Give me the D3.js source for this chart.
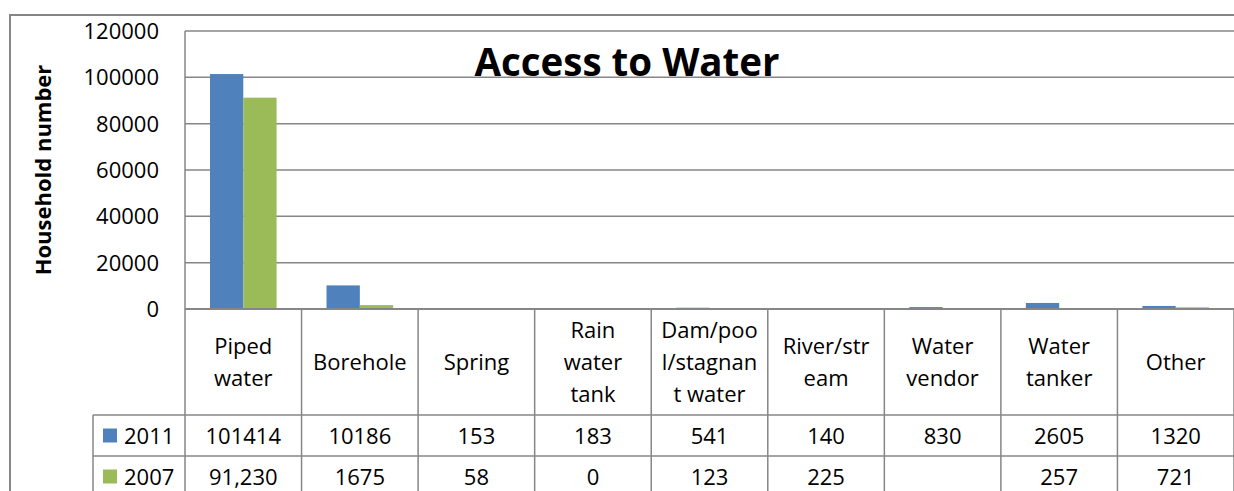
<!DOCTYPE html>
<html>
<head>
<meta charset="utf-8">
<script src="https://cdn.jsdelivr.net/npm/d3@7"></script>
<style>
  body { margin: 0; background: #fff; }
  svg { display: block; font-family: "Open Sans", Lato, sans-serif; }
</style>
</head>
<body>
<svg id="chart" width="1234" height="491"></svg>
<script>
// chart data
const categories = ['Piped water', 'Borehole', 'Spring', 'Rain water tank', 'Dam/pool/stagnant water',
  'River/stream', 'Water vendor', 'Water tanker', 'Other'];
// how Excel wrapped each label in the data table
const categoryLines = [['Piped', 'water'], ['Borehole'], ['Spring'], ['Rain', 'water', 'tank'],
  ['Dam/poo', 'l/stagnan', 't water'], ['River/str', 'eam'], ['Water', 'vendor'], ['Water', 'tanker'], ['Other']];
const series = ['2011', '2007'];
const values2011 = [101414, 10186, 153, 183, 541, 140, 830, 2605, 1320];
const values2007 = [91230, 1675, 58, 0, 123, 225, null, 257, 721];
const labels2011 = ['101414', '10186', '153', '183', '541', '140', '830', '2605', '1320'];
const labels2007 = ['91,230', '1675', '58', '0', '123', '225', '', '257', '721'];
const yTicks = [0, 20000, 40000, 60000, 80000, 100000, 120000];
const colors = { '2011': '#4F81BD', '2007': '#9BBB59' };

const svg = d3.select('#chart');
const gridColor = '#868686';

// plot area
const plotLeft = 185, plotRight = 1234, plotTop = 31, zeroY = 309;
const rowLabelTop = zeroY, rowLabelBottom = 415, row1Bottom = 456, row2Bottom = 497;
const tableLeft = 93;

const x = d3.scaleBand().domain(categories).range([plotLeft, plotRight]).paddingInner(0).paddingOuter(0);
const xs = d3.scaleBand().domain(series).range([0, x.bandwidth()]).paddingInner(0).paddingOuter(0.75);
const y = d3.scaleLinear().domain([0, 120000]).range([zeroY, plotTop]);

// outer chart border
svg.append('path')
  .attr('d', `M10,491 V15 H1240`)
  .attr('fill', 'none')
  .attr('stroke', gridColor)
  .attr('stroke-width', 2);

// gridlines
svg.append('g')
  .selectAll('line')
  .data(yTicks.filter(d => d > 0))
  .enter().append('line')
  .attr('x1', plotLeft).attr('x2', plotRight)
  .attr('y1', d => y(d)).attr('y2', d => y(d))
  .attr('stroke', gridColor)
  .attr('stroke-width', 1.5);

// y tick labels
svg.append('g')
  .selectAll('text')
  .data(yTicks)
  .enter().append('text')
  .attr('x', 159)
  .attr('y', d => y(d) + 8)
  .attr('text-anchor', 'end')
  .attr('font-size', 22)
  .attr('fill', '#000')
  .text(d => d);

// y axis title
svg.append('text')
  .attr('transform', `translate(51,${(plotTop + zeroY) / 2}) rotate(-90)`)
  .attr('text-anchor', 'middle')
  .attr('font-size', 22)
  .attr('font-weight', 'bold')
  .text('Household number');

// bars
const barData = [];
categories.forEach((c, i) => {
  barData.push({ cat: c, s: '2011', v: values2011[i] });
  barData.push({ cat: c, s: '2007', v: values2007[i] });
});
svg.append('g')
  .selectAll('rect')
  .data(barData.filter(d => d.v !== null && d.v > 0))
  .enter().append('rect')
  .attr('x', d => x(d.cat) + xs(d.s))
  .attr('width', xs.bandwidth())
  .attr('y', d => y(d.v))
  .attr('height', d => zeroY - y(d.v))
  .attr('fill', d => colors[d.s]);

// title (drawn over gridlines)
svg.append('text')
  .attr('x', 627)
  .attr('y', 76)
  .attr('text-anchor', 'middle')
  .attr('font-size', 38.5)
  .attr('font-weight', 'bold')
  .text('Access to Water');

// data table lines
const table = svg.append('g')
  .attr('stroke', gridColor)
  .attr('stroke-width', 1.5)
  .attr('fill', 'none');

table.append('line').attr('x1', plotLeft).attr('x2', plotRight).attr('y1', zeroY).attr('y2', zeroY).attr('stroke-width', 2);
table.append('line').attr('x1', tableLeft).attr('x2', plotRight).attr('y1', rowLabelBottom).attr('y2', rowLabelBottom);
table.append('line').attr('x1', tableLeft).attr('x2', plotRight).attr('y1', row1Bottom).attr('y2', row1Bottom);
table.append('line').attr('x1', tableLeft).attr('x2', tableLeft).attr('y1', rowLabelBottom).attr('y2', 491);
table.append('line').attr('x1', plotLeft).attr('x2', plotLeft).attr('y1', plotTop).attr('y2', 491);
table.selectAll('.vline')
  .data(categories)
  .enter().append('line')
  .attr('x1', d => x(d) + x.bandwidth()).attr('x2', d => x(d) + x.bandwidth())
  .attr('y1', zeroY).attr('y2', 491);

// category labels
const catG = svg.append('g').attr('font-size', 22).attr('text-anchor', 'middle');
categories.forEach((c, i) => {
  const lines = categoryLines[i];
  const cx = x(c) + x.bandwidth() / 2;
  const lh = 32;
  const mid = (rowLabelTop + rowLabelBottom) / 2 + 8;
  lines.forEach((t, j) => {
    catG.append('text')
      .attr('x', cx)
      .attr('y', mid + (j - (lines.length - 1) / 2) * lh)
      .text(t);
  });
});

// value rows
const rows = [
  { s: '2011', labels: labels2011, yBase: (rowLabelBottom + row1Bottom) / 2 + 8 },
  { s: '2007', labels: labels2007, yBase: (row1Bottom + row2Bottom) / 2 + 8 }
];
rows.forEach(r => {
  svg.append('rect')
    .attr('x', 103)
    .attr('y', r.yBase - 15)
    .attr('width', 14)
    .attr('height', 14)
    .attr('fill', colors[r.s]);
  svg.append('text')
    .attr('x', 124)
    .attr('y', r.yBase)
    .attr('font-size', 22)
    .text(r.s);
  svg.append('g')
    .selectAll('text')
    .data(categories)
    .enter().append('text')
    .attr('x', d => x(d) + x.bandwidth() / 2)
    .attr('y', r.yBase)
    .attr('text-anchor', 'middle')
    .attr('font-size', 22)
    .text((d, i) => r.labels[i]);
});
</script>
</body>
</html>
